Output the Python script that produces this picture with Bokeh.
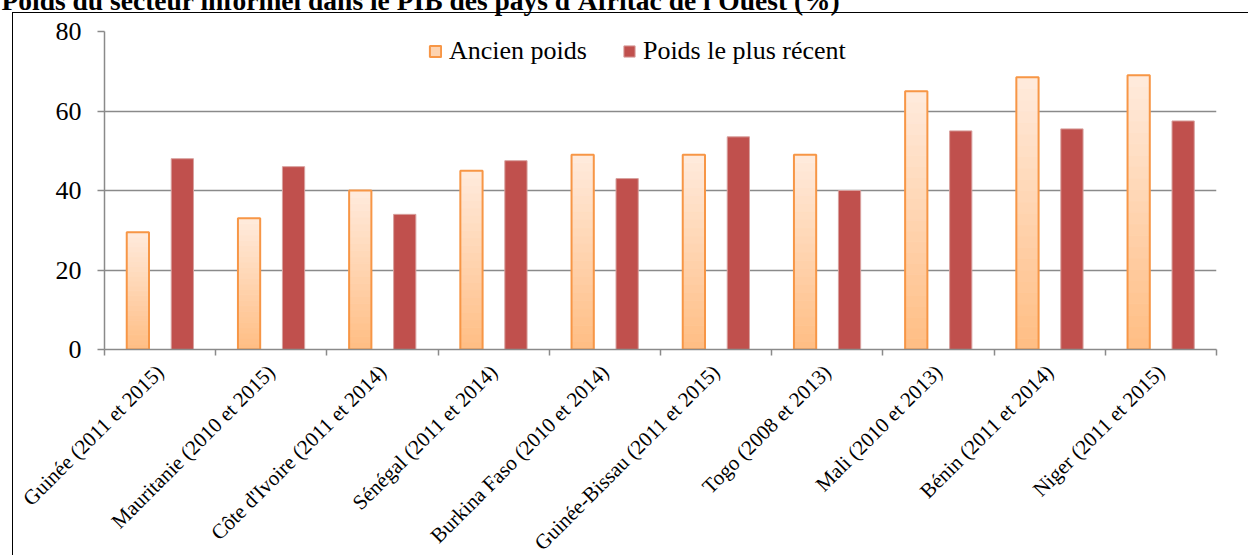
from bokeh.plotting import figure
from bokeh.models import (FixedTicker, Legend, LegendItem, Range1d, InlineStyleSheet, Title)
from bokeh.embed import file_html
from bokeh.resources import INLINE

title = "Poids du secteur informel dans le PIB des pays d'Afritac de l'Ouest (%)"
categories = ["Guinée (2011 et 2015)", "Mauritanie (2010 et 2015)", "Côte d'Ivoire (2011 et 2014)",
              "Sénégal (2011 et 2014)", "Burkina Faso (2010 et 2014)", "Guinée-Bissau (2011 et 2015)",
              "Togo (2008 et 2013)", "Mali (2010 et 2013)", "Bénin (2011 et 2014)", "Niger (2011 et 2015)"]
ancien = [29.5, 33, 40, 45, 49, 49, 49, 65, 68.5, 69]
recent = [48, 46, 34, 47.5, 43, 53.5, 40, 55, 55.5, 57.5]
y_ticks = [0, 20, 40, 60, 80]
series_names = ["Ancien poids", "Poids le plus récent"]

FONT = "Liberation Serif"
W, H = 1248, 555
L, R, B = 104, 32, 206
FT = 31            # frame top on the page
TITLE_STANDOFF = 31
TOP_AREA = 33 + TITLE_STANDOFF   # height of the title panel above the frame
SHIFT = TOP_AREA - FT

border_css = InlineStyleSheet(css=f"""
:host {{ position: relative; }}
:host::after {{ content: ""; position: absolute; left: 12px; top: {12 + SHIFT}px; right: -20px; bottom: -20px;
  border: 1px solid #000; pointer-events: none; }}
""")

p = figure(output_backend="svg", toolbar_location=None,
           x_range=Range1d(0, len(categories)), y_range=Range1d(0, 80),
           min_border_left=L, min_border_right=R, min_border_top=0, min_border_bottom=B,
           frame_width=W - L - R, frame_height=H - FT - B,
           margin=(-SHIFT, 0, 0, 0), stylesheets=[border_css])
p.outline_line_color = None
p.background_fill_color = "white"
p.border_fill_color = "white"

p.add_layout(Title(text=title, align="left", offset=-103, standoff=TITLE_STANDOFF, vertical_align="bottom",
                   text_font=FONT, text_font_size="27.5px", text_font_style="bold",
                   text_color="black"), "above")

# gradient bars (ancien)
N = 24
top_c = (255, 234, 219)
bot_c = (255, 190, 133)
gl, gr, gt, gb, gc = [], [], [], [], []
for i, v in enumerate(ancien):
    for k in range(N):
        f = k / (N - 1)
        col = tuple(int(round(bot_c[j] + (top_c[j] - bot_c[j]) * f)) for j in range(3))
        gl.append(i + 0.3 - 0.1)
        gr.append(i + 0.3 + 0.1)
        gb.append(v * k / N)
        gt.append(v * (k + 1) / N)
        gc.append("#%02x%02x%02x" % col)
p.quad(left=gl, right=gr, bottom=gb, top=gt, fill_color=gc, line_color=gc, line_width=1)
xa = [i + 0.3 for i in range(len(categories))]
xr = [i + 0.7 for i in range(len(categories))]
p.vbar(x=xa, top=ancien, width=0.2, fill_color=None, line_color="#F79646", line_width=2)
r_rec = p.vbar(x=xr, top=recent, width=0.2, fill_color="#C0504D", line_color="#D8A09E", line_width=1)

# legend proxy
r_anc = p.quad(left=[float("nan")], right=[float("nan")], top=[float("nan")], bottom=[float("nan")],
               fill_color="#FDD3B0", line_color="#F79646", line_width=2)
legend = Legend(items=[LegendItem(label=series_names[0], renderers=[r_anc]),
                       LegendItem(label=series_names[1], renderers=[r_rec])],
                orientation="horizontal", location=(324, 283),
                label_text_font=FONT, label_text_font_size="26px", label_text_color="black",
                glyph_width=14, glyph_height=14, label_standoff=7, spacing=35,
                padding=0, margin=0, border_line_color=None, background_fill_alpha=0)
p.add_layout(legend, "center")

# axes
p.yaxis.ticker = FixedTicker(ticks=y_ticks)
p.yaxis.major_label_text_font = FONT
p.yaxis.major_label_text_font_size = "26px"
p.yaxis.major_label_text_color = "black"
p.yaxis.axis_line_color = "#8A8A8A"
p.yaxis.axis_line_width = 1.5
p.yaxis.major_tick_line_color = "#8A8A8A"
p.yaxis.major_tick_line_width = 1.5
p.yaxis.major_tick_out = 7
p.yaxis.major_tick_in = 0
p.yaxis.minor_tick_line_color = None
p.yaxis.major_label_standoff = 16

p.xaxis.ticker = FixedTicker(ticks=[i + 0.5 for i in range(len(categories))],
                             minor_ticks=list(range(len(categories) + 1)))
p.xaxis.major_label_overrides = {i + 0.5: c for i, c in enumerate(categories)}
p.xaxis.major_label_orientation = 0.785398
p.xaxis.major_label_text_font = FONT
p.xaxis.major_label_text_font_size = "21px"
p.xaxis.major_label_text_color = "black"
p.xaxis.major_tick_line_color = None
p.xaxis.minor_tick_line_color = "#8A8A8A"
p.xaxis.minor_tick_line_width = 1.5
p.xaxis.minor_tick_out = 6
p.xaxis.minor_tick_in = 0
p.xaxis.axis_line_color = "#8A8A8A"
p.xaxis.axis_line_width = 1.5
p.xaxis.major_label_standoff = 13

p.xgrid.grid_line_color = None
p.ygrid.ticker = FixedTicker(ticks=y_ticks[1:])
p.ygrid.grid_line_color = "#8A8A8A"
p.ygrid.grid_line_width = 1.5

open("out.html", "w").write(file_html(p, INLINE))
